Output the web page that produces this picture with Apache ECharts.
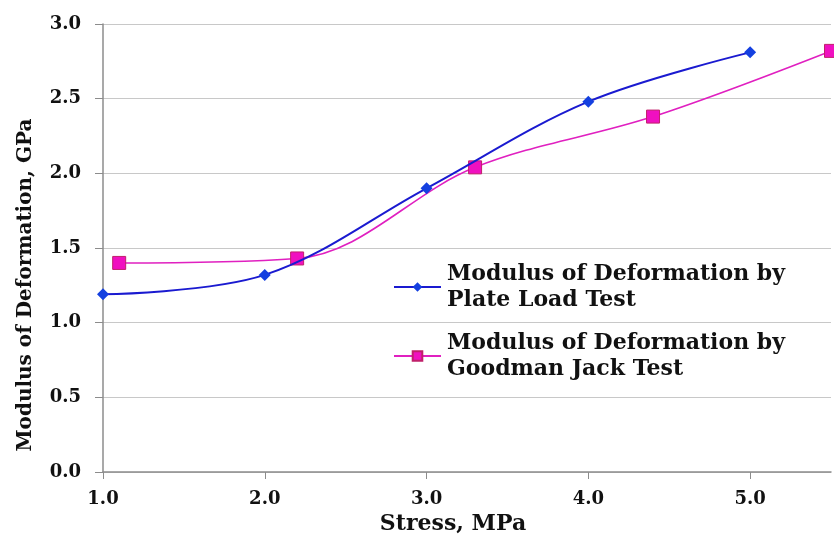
<!DOCTYPE html>
<html>
<head>
<meta charset="utf-8">
<script src="https://cdn.jsdelivr.net/npm/echarts@6/dist/echarts.min.js"></script>
<style>
html,body{margin:0;padding:0;background:#fff;}
#chart{width:834px;height:540px;}
</style>
</head>
<body>
<div id="chart"></div>
<script>
// values
var plateStress = [1.0, 2.0, 3.0, 4.0, 5.0];
var plateModulus = [1.19, 1.32, 1.90, 2.48, 2.81];
var jackStress = [1.1, 2.2, 3.3, 4.4, 5.5];
var jackModulus = [1.40, 1.43, 2.04, 2.38, 2.82];
var plateName = 'Modulus of Deformation by\nPlate Load Test';
var jackName = 'Modulus of Deformation by\nGoodman Jack Test';

var serif = '"DejaVu Serif", "Liberation Serif", serif';

function pairs(xs, ys){
	var out = [];
	for(var i = 0; i < xs.length; i++){
		out.push([xs[i], ys[i]]);
	}
	return out;
}

function legendAt(name, top){
	return {
		data: [name],
		orient: 'vertical',
		left: 388,
		top: top,
		itemWidth: 47,
		itemHeight: 12,
		itemGap: 0,
		selectedMode: false,
		textStyle: {
			fontFamily: serif,
			fontWeight: 'bold',
			fontSize: 22,
			color: '#111',
			lineHeight: 26,
			padding: [26, 0, 0, 1]	// push text down so the icon sits on the 1st line
		}
	};
}

var myChart = echarts.init(document.getElementById('chart'));
var option = {
	backgroundColor: '#fff',
	animation: false,
	grid: {left: 103, right: 3, top: 24, bottom: 68},
	legend: [legendAt(plateName, 243), legendAt(jackName, 312)],
	xAxis: {
		type: 'value',
		min: 1,
		max: 5.5,
		interval: 1,
		name: 'Stress, MPa',
		nameLocation: 'middle',
		nameGap: 40,
		nameTextStyle: {fontFamily: serif, fontWeight: 'bold', fontSize: 22, color: '#111', padding: [0, 28, 0, 0]},
		axisLine: {lineStyle: {color: '#8c8c8c', width: 1.5}},
		axisTick: {show: true, length: 7, lineStyle: {color: '#8c8c8c'}},
		splitLine: {show: false},
		axisLabel: {
			fontFamily: serif, fontWeight: 'bold', fontSize: 18, color: '#111', margin: 18,
			showMaxLabel: false,
			formatter: function(v){ return v.toFixed(1); }
		}
	},
	yAxis: {
		type: 'value',
		min: 0,
		max: 3,
		interval: 0.5,
		name: 'Modulus of Deformation, GPa',
		nameLocation: 'middle',
		nameGap: 67,
		nameTextStyle: {fontFamily: serif, fontWeight: 'bold', fontSize: 20, color: '#111', padding: [0, 74, 0, 0]},
		axisLine: {show: true, lineStyle: {color: '#8c8c8c', width: 1.5}},
		axisTick: {show: true, length: 8, lineStyle: {color: '#8c8c8c'}},
		splitLine: {show: true, lineStyle: {color: '#c8c8c8', width: 1.2}},
		axisLabel: {
			fontFamily: serif, fontWeight: 'bold', fontSize: 18, color: '#111', margin: 22,
			formatter: function(v){ return v.toFixed(1); }
		}
	},
	series: [
		{
			name: plateName,
			type: 'line',
			smooth: 0.35,
			data: pairs(plateStress, plateModulus),
			symbol: 'diamond',
			symbolSize: 12,
			lineStyle: {color: '#1a1ad0', width: 2},
			itemStyle: {color: '#1440e0'},
			z: 3
		},
		{
			name: jackName,
			type: 'line',
			smooth: 0.35,
			data: pairs(jackStress, jackModulus),
			symbol: 'rect',
			symbolSize: 13,
			lineStyle: {color: '#e020c0', width: 1.6},
			itemStyle: {color: '#f010c0', borderColor: '#c0206a', borderWidth: 1},
			z: 2
		}
	]
};
myChart.setOption(option);
</script>
</body>
</html>
